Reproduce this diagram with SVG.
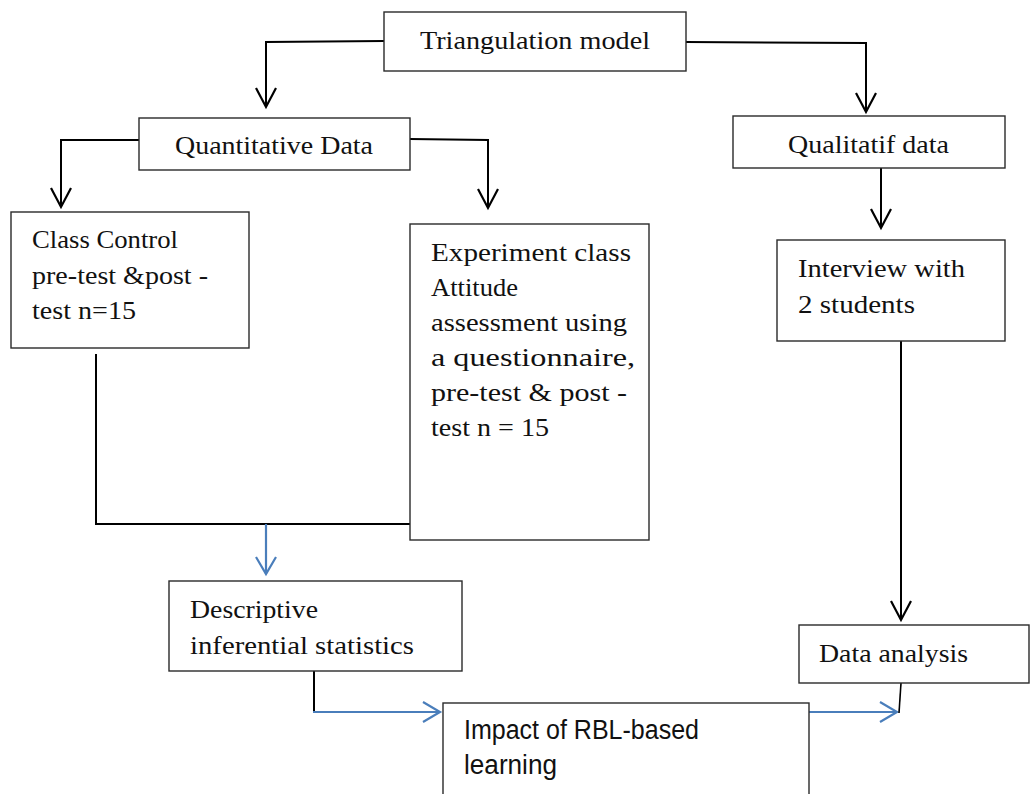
<svg xmlns="http://www.w3.org/2000/svg" width="1030" height="794" viewBox="0 0 1030 794">
<style>
.box{fill:#fff;stroke:#2a2a2a;stroke-width:1.4}
.t{font-family:"Liberation Serif","DejaVu Serif",serif;font-size:26px;fill:#111}
.ts{font-family:"Liberation Sans","DejaVu Sans",sans-serif;font-size:27px;fill:#111}
.k{fill:none;stroke:#000;stroke-width:2}
.b{fill:none;stroke:#4a7ebb;stroke-width:2.2}
</style>
<defs>
<marker id="ak" viewBox="-21 -12 24 24" refX="0" refY="0" markerWidth="24" markerHeight="24" markerUnits="userSpaceOnUse" orient="auto">
<path d="M-19,-10 L0,0 L-19,10" fill="none" stroke="#000" stroke-width="2.2"/>
</marker>
<marker id="ab" viewBox="-21 -12 24 24" refX="0" refY="0" markerWidth="24" markerHeight="24" markerUnits="userSpaceOnUse" orient="auto">
<path d="M-17,-10 L0,0 L-17,10" fill="none" stroke="#4a7ebb" stroke-width="2.2"/>
</marker>
</defs>
<rect width="1030" height="794" fill="#fff"/>
<g id="connectors">
<path class="k" d="M384,41 L266,42 L266,107" marker-end="url(#ak)"/>
<path class="k" d="M686,42 L866,43 L866,112" marker-end="url(#ak)"/>
<path class="k" d="M139,140 L61,140 L61,207" marker-end="url(#ak)"/>
<path class="k" d="M410,139 L488,140 L488,208" marker-end="url(#ak)"/>
<path class="k" d="M881,168 L881,228" marker-end="url(#ak)"/>
<path class="k" d="M901,341 L901,620" marker-end="url(#ak)"/>
<path class="k" d="M96,354 L96,524 L410,524"/>
<path class="b" d="M266,524 L266,574" marker-end="url(#ab)"/>
<path class="k" d="M314,671 L314,712"/>
<path class="b" d="M313,712 L440,712" marker-end="url(#ab)"/>
<path class="b" d="M809,712 L897,712" marker-end="url(#ab)"/>
<path class="k" d="M901,683 L899,713" style="stroke-width:1.6"/>
</g>
<g id="triangulation">
<rect class="box" x="384" y="12" width="302" height="59"/>
<text class="t" x="420" y="49" textLength="230" lengthAdjust="spacingAndGlyphs">Triangulation model</text>
</g>
<g id="quantitative">
<rect class="box" x="139" y="118" width="271" height="52"/>
<text class="t" x="175" y="154" textLength="198" lengthAdjust="spacingAndGlyphs">Quantitative Data</text>
</g>
<g id="qualitatif">
<rect class="box" x="733" y="116" width="272" height="52"/>
<text class="t" x="788" y="153" textLength="161" lengthAdjust="spacingAndGlyphs">Qualitatif data</text>
</g>
<g id="class-control">
<rect class="box" x="11" y="212" width="238" height="136"/>
<text class="t" x="32" y="248" textLength="146" lengthAdjust="spacingAndGlyphs">Class Control</text>
<text class="t" x="32" y="284" textLength="176" lengthAdjust="spacingAndGlyphs">pre-test &amp;post -</text>
<text class="t" x="32" y="319" textLength="104" lengthAdjust="spacingAndGlyphs">test n=15</text>
</g>
<g id="experiment">
<rect class="box" x="410" y="224" width="239" height="316"/>
<text class="t" x="431" y="261" textLength="200" lengthAdjust="spacingAndGlyphs">Experiment class</text>
<text class="t" x="431" y="296" textLength="87" lengthAdjust="spacingAndGlyphs">Attitude</text>
<text class="t" x="431" y="331" textLength="196" lengthAdjust="spacingAndGlyphs">assessment using</text>
<text class="t" x="431" y="366" textLength="204" lengthAdjust="spacingAndGlyphs">a questionnaire,</text>
<text class="t" x="431" y="401" textLength="196" lengthAdjust="spacingAndGlyphs">pre-test &amp; post -</text>
<text class="t" x="431" y="436" textLength="118" lengthAdjust="spacingAndGlyphs">test n = 15</text>
</g>
<g id="interview">
<rect class="box" x="777" y="240" width="228" height="101"/>
<text class="t" x="798" y="277" textLength="167" lengthAdjust="spacingAndGlyphs">Interview with</text>
<text class="t" x="798" y="313" textLength="117" lengthAdjust="spacingAndGlyphs">2 students</text>
</g>
<g id="descriptive">
<rect class="box" x="169" y="581" width="293" height="90"/>
<text class="t" x="190" y="618" textLength="128" lengthAdjust="spacingAndGlyphs">Descriptive</text>
<text class="t" x="190" y="654" textLength="224" lengthAdjust="spacingAndGlyphs">inferential statistics</text>
</g>
<g id="data-analysis">
<rect class="box" x="799" y="625" width="230" height="58"/>
<text class="t" x="819" y="662" textLength="149" lengthAdjust="spacingAndGlyphs">Data analysis</text>
</g>
<g id="impact">
<rect class="box" x="443" y="703" width="366" height="110"/>
<text class="ts" x="464" y="739" textLength="235" lengthAdjust="spacingAndGlyphs">Impact of RBL-based</text>
<text class="ts" x="464" y="774" textLength="93" lengthAdjust="spacingAndGlyphs">learning</text>
</g>
</svg>
